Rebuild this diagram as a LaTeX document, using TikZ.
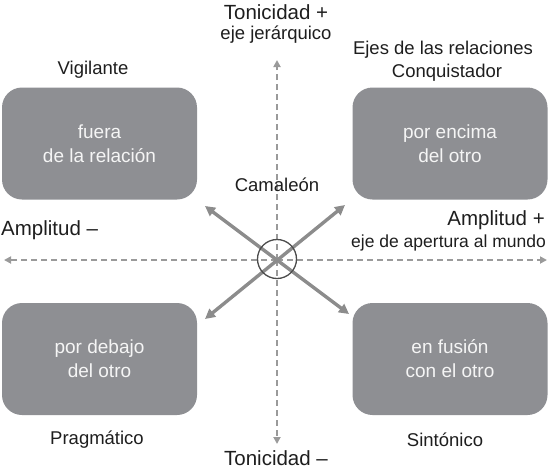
\documentclass[tikz,border=0pt]{standalone}
\usepackage{fontspec}
\setmainfont{Liberation Sans}
\usetikzlibrary{arrows.meta}
\definecolor{boxgray}{HTML}{8E8F93}
\definecolor{axisgray}{HTML}{9A9A9A}
\definecolor{diaggray}{HTML}{8C8C8C}
\definecolor{txt}{HTML}{1E1E1E}
\definecolor{boxtxt}{HTML}{F5F5F5}
\tikzset{
  quadbox/.style={fill=boxgray, rounded corners=20pt, minimum width=195pt, minimum height=112pt, inner sep=0pt,
    text=boxtxt, align=center, font=\fontsize{19}{24}\selectfont},
  lbl/.style={text=txt, align=center, inner sep=0pt, font=\fontsize{18.5}{22.5}\selectfont},
  biglbl/.style={text=txt, align=center, inner sep=0pt, font=\fontsize{20.5}{23}\selectfont},
  axis/.style={draw=axisgray, line width=2.4pt, dash pattern=on 6pt off 4pt, -{Triangle[length=7pt,width=7pt]}},
  diag/.style={draw=diaggray, line width=3.4pt, {Triangle[length=10pt,width=10pt]}-{Triangle[length=10pt,width=10pt]}},
}
\begin{document}
\begin{tikzpicture}[x=1pt,y=-1pt]
\useasboundingbox (0,0) rectangle (549,469);
% boxes
\node[quadbox] (tl) at (99.5,143.5) {fuera\\de la relación};
\node[quadbox] (tr) at (450,143.5) {por encima\\del otro};
\node[quadbox] (bl) at (99.5,359) {por debajo\\del otro};
\node[quadbox] (br) at (450,359) {en fusión\\con el otro};
% axes
\coordinate (c) at (277,260);
\coordinate (top) at (277,60);
\coordinate (bot) at (277,444);
\coordinate (left) at (4,260);
\coordinate (right) at (547,260);
\draw[axis] (c) -- (top);
\draw[axis] (c) -- (bot);
\draw[axis] (c) -- (left);
\draw[axis] (c) -- (right);
% diagonals
\coordinate (d1a) at (205,206);
\coordinate (d1b) at (349,314);
\coordinate (d2a) at (345,205);
\coordinate (d2b) at (205,319);
\draw[diag] (d1a) -- (d1b);
\draw[diag] (d2a) -- (d2b);
\node[draw=black!70, line width=1.3pt, circle, minimum size=39pt, inner sep=0pt] (circ) at (277,259) {};
% labels
\node[biglbl] (tonp) at (276,12) {Tonicidad +};
\node[lbl] (jer) at (276,35) {eje jerárquico};
\node[lbl] (vig) at (93,70) {Vigilante};
\node[lbl] (ejes) at (443,50) {Ejes de las relaciones};
\node[lbl] (conq) at (447,73) {Conquistador};
\node[lbl] (cam) at (277,185) {Camaleón};
\node[biglbl, anchor=west] (ampm) at (1,230) {Amplitud –};
\node[biglbl, anchor=east] (ampp) at (545,220) {Amplitud +};
\node[lbl, anchor=east, font=\fontsize{17.5}{21}\selectfont] (aper) at (546,243) {eje de apertura al mundo};
\node[lbl] (prag) at (97,440) {Pragmático};
\node[lbl] (sint) at (445,440) {Sintónico};
\node[biglbl] (tonm) at (276,458) {Tonicidad –};
\end{tikzpicture}
\end{document}
